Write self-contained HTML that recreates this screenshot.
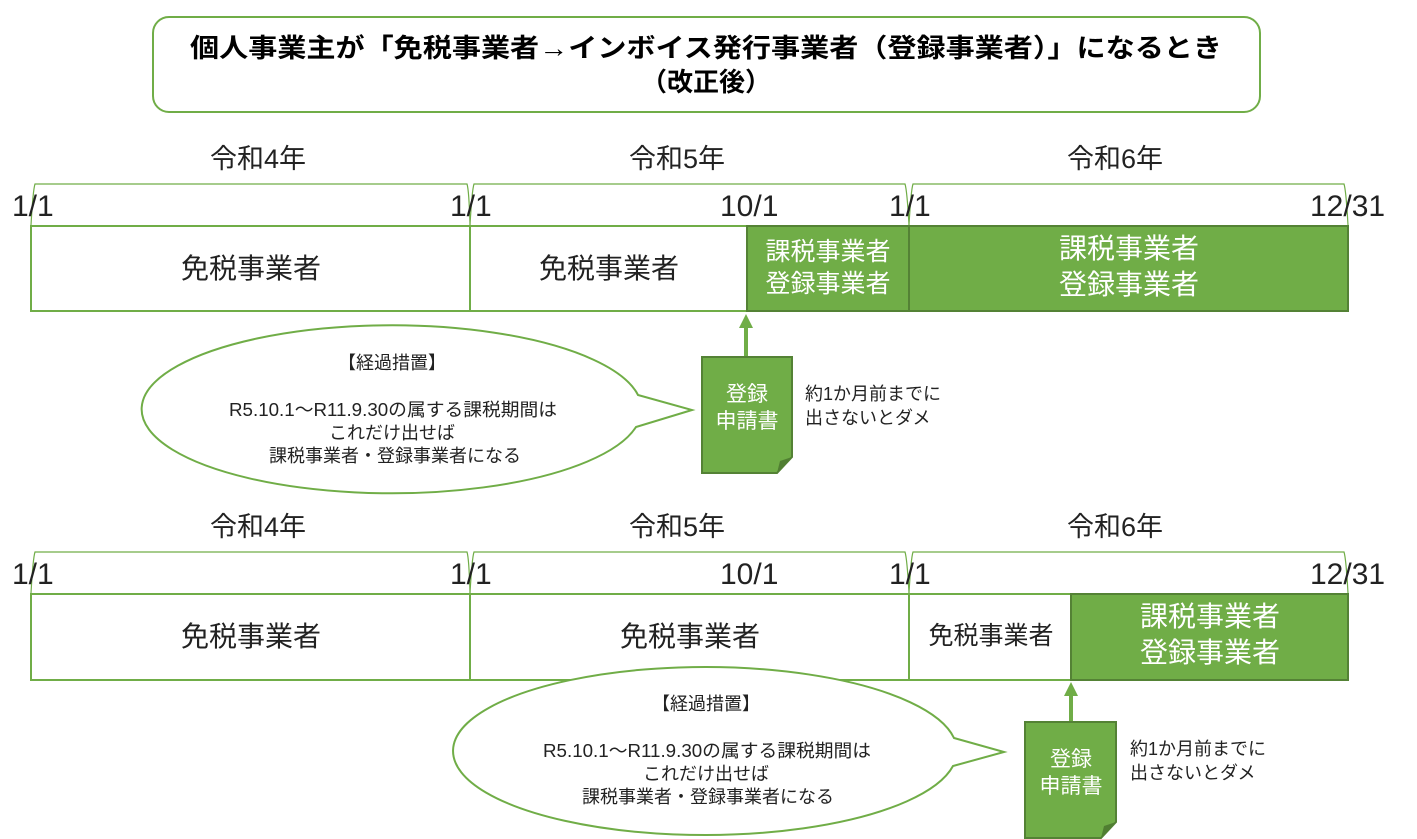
<!DOCTYPE html>
<html><head><meta charset="utf-8"><style>
html,body{margin:0;padding:0;background:#fff;}
svg{display:block;font-family:"Liberation Sans","Noto Sans CJK JP",sans-serif;}
</style></head><body>
<svg width="1417" height="839" viewBox="0 0 1417 839" xmlns="http://www.w3.org/2000/svg">
<rect x="153" y="17" width="1107" height="95" rx="16" fill="#fff" stroke="#70ad47" stroke-width="2"/>
<text x="706" y="57" text-anchor="middle" font-size="26" font-weight="bold" textLength="1032" lengthAdjust="spacingAndGlyphs">個人事業主が「免税事業者→インボイス発行事業者（登録事業者）」になるとき</text>
<text x="706" y="91" text-anchor="middle" font-size="26" font-weight="bold">（改正後）</text>

<g id="row1">
<g font-size="27" fill="#222" text-anchor="middle">
<text x="258" y="168">令和4年</text><text x="677" y="168">令和5年</text><text x="1115" y="168">令和6年</text>
</g>
<g fill="none" stroke="#70ad47" stroke-width="1.2">
<path d="M31 225 Q33 190 35 184 H467 Q469 190 470 225"/>
<path d="M470 225 Q472 190 474 184 H905 Q907 190 909 225"/>
<path d="M909 225 Q911 190 913 184 H1344 Q1346 190 1348 225"/>
</g>
<g font-size="30" fill="#222">
<text x="12" y="216">1/1</text><text x="450" y="216">1/1</text><text x="720" y="216">10/1</text><text x="889" y="216">1/1</text><text x="1310" y="216">12/31</text>
</g>
<rect x="31" y="226" width="439" height="85" fill="#fff" stroke="#70ad47" stroke-width="2"/>
<rect x="470" y="226" width="277" height="85" fill="#fff" stroke="#70ad47" stroke-width="2"/>
<rect x="747" y="226" width="162" height="85" fill="#70ad47" stroke="#548235" stroke-width="2"/>
<rect x="909" y="226" width="439" height="85" fill="#70ad47" stroke="#548235" stroke-width="2"/>
<g font-size="28" text-anchor="middle" fill="#222">
<text x="251" y="278">免税事業者</text><text x="609" y="278">免税事業者</text>
</g>
<g text-anchor="middle" fill="#fff">
<text x="828" y="260" font-size="25">課税事業者</text><text x="828" y="292" font-size="25">登録事業者</text>
<text x="1129" y="258" font-size="28">課税事業者</text><text x="1129" y="294" font-size="28">登録事業者</text>
</g>
<line x1="746" y1="357" x2="746" y2="326" stroke="#70ad47" stroke-width="4"/>
<polygon points="746,314 739,328 753,328" fill="#70ad47"/>
<path d="M702 357 H792 V457 L777 473 H702 Z" fill="#70ad47" stroke="#548235" stroke-width="2"/>
<path d="M777 473 L780 461 L792 457 Z" fill="#507e32"/>
<g font-size="21" fill="#fff" text-anchor="middle"><text x="747" y="401">登録</text><text x="747" y="428">申請書</text></g>
<g font-size="18" fill="#222"><text x="805" y="400">約1か月前までに</text><text x="805" y="424">出さないとダメ</text></g>
<path d="M638 395 A250 84 0 1 0 636 427 L692 410 Z" fill="#fff" stroke="#70ad47" stroke-width="2"/>
<g font-size="18" fill="#222" text-anchor="middle">
<text x="392" y="369">【経過措置】</text><text x="393" y="416" textLength="328" lengthAdjust="spacingAndGlyphs">R5.10.1～R11.9.30の属する課税期間は</text><text x="392" y="439">これだけ出せば</text><text x="395" y="462">課税事業者・登録事業者になる</text>
</g>
</g>

<g id="row2">
<g font-size="27" fill="#222" text-anchor="middle">
<text x="258" y="536">令和4年</text><text x="677" y="536">令和5年</text><text x="1115" y="536">令和6年</text>
</g>
<g fill="none" stroke="#70ad47" stroke-width="1.2">
<path d="M31 593 Q33 558 35 552 H467 Q469 558 470 593"/>
<path d="M470 593 Q472 558 474 552 H905 Q907 558 909 593"/>
<path d="M909 593 Q911 558 913 552 H1344 Q1346 558 1348 593"/>
</g>
<g font-size="30" fill="#222">
<text x="12" y="584">1/1</text><text x="450" y="584">1/1</text><text x="720" y="584">10/1</text><text x="889" y="584">1/1</text><text x="1310" y="584">12/31</text>
</g>
<rect x="31" y="594" width="439" height="86" fill="#fff" stroke="#70ad47" stroke-width="2"/>
<rect x="470" y="594" width="439" height="86" fill="#fff" stroke="#70ad47" stroke-width="2"/>
<rect x="909" y="594" width="162" height="86" fill="#fff" stroke="#70ad47" stroke-width="2"/>
<rect x="1071" y="594" width="277" height="86" fill="#70ad47" stroke="#548235" stroke-width="2"/>
<g text-anchor="middle" fill="#222">
<text x="251" y="646" font-size="28">免税事業者</text><text x="690" y="646" font-size="28">免税事業者</text><text x="991" y="644" font-size="25">免税事業者</text>
</g>
<g text-anchor="middle" fill="#fff" font-size="28">
<text x="1210" y="626">課税事業者</text><text x="1210" y="662">登録事業者</text>
</g>
<line x1="1071" y1="722" x2="1071" y2="694" stroke="#70ad47" stroke-width="4"/>
<polygon points="1071,682 1064,696 1078,696" fill="#70ad47"/>
<path d="M1025 722 H1116 V822 L1101 838 H1025 Z" fill="#70ad47" stroke="#548235" stroke-width="2"/>
<path d="M1101 838 L1104 826 L1116 822 Z" fill="#507e32"/>
<g font-size="21" fill="#fff" text-anchor="middle"><text x="1071" y="766">登録</text><text x="1071" y="793">申請書</text></g>
<g font-size="18" fill="#222"><text x="1130" y="755">約1か月前までに</text><text x="1130" y="779">出さないとダメ</text></g>
<path d="M954 738 A252 84 0 1 0 953 766 L1004 752 Z" fill="#fff" stroke="#70ad47" stroke-width="2"/>
<g font-size="18" fill="#222" text-anchor="middle">
<text x="706" y="710">【経過措置】</text><text x="707" y="757" textLength="328" lengthAdjust="spacingAndGlyphs">R5.10.1～R11.9.30の属する課税期間は</text><text x="706" y="780">これだけ出せば</text><text x="708" y="803">課税事業者・登録事業者になる</text>
</g>
</g>
</svg>
</body></html>
